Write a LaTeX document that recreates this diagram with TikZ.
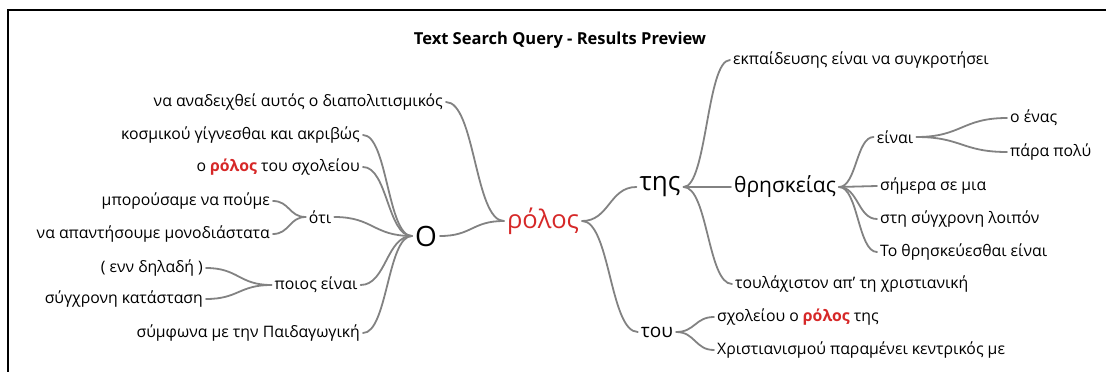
\documentclass[tikz,border=0pt]{standalone}
\usepackage{fontspec}
\setmainfont{Open Sans}
\usepackage{xcolor}
\usetikzlibrary{calc}
\definecolor{rolred}{RGB}{214,40,40}
\definecolor{linkgray}{RGB}{130,130,130}
\newcommand{\hit}{\textcolor{rolred}{\textbf{ρόλος}}}

\begin{document}
\begin{tikzpicture}[x=1pt,y=-1pt,
  word/.style={font=\fontsize{15.8}{18}\selectfont,inner sep=3pt},
  big/.style={font=\fontsize{#1}{#1}\selectfont,inner sep=3pt},
  link/.style={draw=linkgray,line width=1.8pt,line cap=round},
  branch/.style={to path={let \p1=(\tikztostart), \p2=(\tikztotarget) in
    .. controls ({(\x1+\x2)/2},\y1) and ({(\x1+\x2)/2},\y2) .. (\tikztotarget)}}]
\useasboundingbox (0,0) rectangle (1106,372);
\draw[line width=2pt] (8,372) -- (8,10) -- (1106,10);

\node[font=\bfseries\fontsize{16.5}{18}\selectfont] (title) at (560,40) {Text Search Query - Results Preview};

\node[big=25.5,text=rolred] (rolos) at (543,221) {ρόλος};
\node[big=28] (o) at (426,236) {O};

\node[word,anchor=east] (a1) at (446,102) {να αναδειχθεί αυτός ο διαπολιτισμικός};
\node[word,anchor=east] (b1) at (363,135) {κοσμικού γίγνεσθαι και ακριβώς};
\node[word,anchor=east] (b2) at (363,167) {ο \hit{} του σχολείου};
\node[word] (oti) at (320,217) {ότι};
\node[word,anchor=east] (c1) at (273,201) {μπορούσαμε να πούμε};
\node[word,anchor=east] (c2) at (273,234) {να απαντήσουμε μονοδιάστατα};
\node[word] (poios) at (316,285) {ποιος είναι};
\node[word,anchor=east] (d1) at (206,268) {( ενν δηλαδή )};
\node[word,anchor=east] (d2) at (206,299) {σύγχρονη κατάσταση};
\node[word,anchor=east] (b5) at (363,333) {σύμφωνα με την Παιδαγωγική};

\node[big=26] (tis) at (660,187) {της};
\node[big=19] (tou) at (657,332) {του};
\node[word,anchor=west] (e1) at (730,60) {εκπαίδευσης είναι να συγκροτήσει};
\node[big=21] (thr) at (785,187) {θρησκείας};
\node[word,anchor=west] (e3) at (732,284) {τουλάχιστον απ’ τη χριστιανική};
\node[word] (einai) at (895,137) {είναι};
\node[word,anchor=west] (f1) at (1007,118) {ο ένας};
\node[word,anchor=west] (f2) at (1007,152) {πάρα πολύ};
\node[word,anchor=west] (g2) at (877,186) {σήμερα σε μια};
\node[word,anchor=west] (g3) at (877,219) {στη σύγχρονη λοιπόν};
\node[word,anchor=west] (g4) at (877,252) {Το θρησκεύεσθαι είναι};
\node[word,anchor=west] (h1) at (714,317) {σχολείου ο \hit{} της};
\node[word,anchor=west] (h2) at (714,350) {Χριστιανισμού παραμένει κεντρικός με};

\draw[link] (rolos.west) to[branch] (a1.east);
\draw[link] (rolos.west) to[branch] (o.east);
\draw[link] (o.west) to[branch] (b1.east);
\draw[link] (o.west) to[branch] (b2.east);
\draw[link] (o.west) to[branch] (oti.east);
\draw[link] (o.west) to[branch] (poios.east);
\draw[link] (o.west) to[branch] (b5.east);
\draw[link] (oti.west) to[branch] (c1.east);
\draw[link] (oti.west) to[branch] (c2.east);
\draw[link] (poios.west) to[branch] (d1.east);
\draw[link] (poios.west) to[branch] (d2.east);

\draw[link] (rolos.east) to[branch] (tis.west);
\draw[link] (rolos.east) to[branch] (tou.west);
\draw[link] (tis.east) to[branch] (e1.west);
\draw[link] (tis.east) to[branch] (thr.west);
\draw[link] (tis.east) to[branch] (e3.west);
\draw[link] (thr.east) to[branch] (einai.west);
\draw[link] (thr.east) to[branch] (g2.west);
\draw[link] (thr.east) to[branch] (g3.west);
\draw[link] (thr.east) to[branch] (g4.west);
\draw[link] (einai.east) to[branch] (f1.west);
\draw[link] (einai.east) to[branch] (f2.west);
\draw[link] (tou.east) to[branch] (h1.west);
\draw[link] (tou.east) to[branch] (h2.west);
\end{tikzpicture}
\end{document}
